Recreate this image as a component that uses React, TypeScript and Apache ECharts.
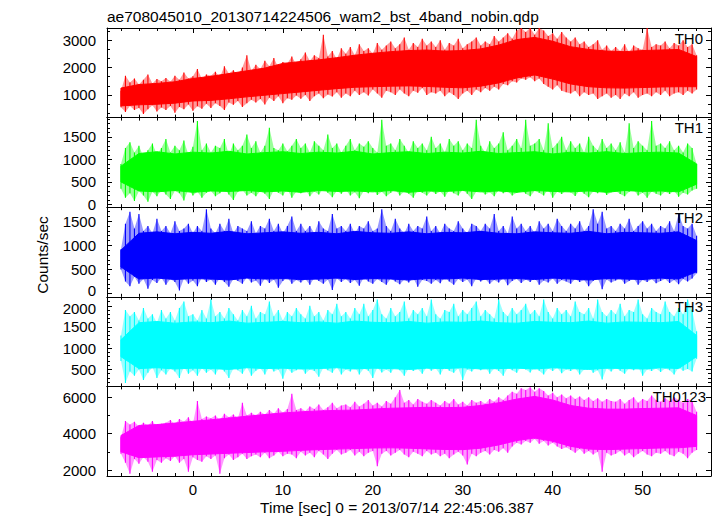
import React, { useEffect, useRef } from "react";
import * as echarts from "echarts";

// ---- Texts ----
const TITLE = "ae708045010_20130714224506_wam2_bst_4band_nobin.qdp";
const X_TITLE = "Time [sec] 0 = 2013/07/14 22:45:06.387";
const Y_TITLE = "Counts/sec";
const BANDS = ["TH0", "TH1", "TH2", "TH3", "TH0123"];
const COLORS = ["#ff0000", "#00ff00", "#0000ff", "#00ffff", "#ff00ff"];

// ---- Axes ----
const X_MIN = -9.55;
const X_MAX = 57.6;
const Y_MIN = [173, -60, -69, 100, 1670];
const Y_MAX = [3443, 1926, 1792, 2211, 6600];
const Y_SPLIT = [3, 4, 4, 4, 3];
const Y_MINOR = [3, 5, 5, 5, 2];

// ---- Time sampling (sec) of the spike envelopes ----
const T_START = -8.0;
const T_STEP = 0.5;
// ---- Time sampling (sec) of the dense core band ----
const CORE_START = -8.0;
const CORE_STEP = 2.0;

// ---- Spike extents (upper / lower tip, counts/sec) ----
const th0Upper = [
  1150, 1700, 1450, 1600, 1380, 1550, 1750, 1420, 1580, 1500,
  1620, 1480, 1700, 1550, 1820, 1600, 1680, 1950, 1580, 1750,
  1700, 1850, 1650, 2050, 1780, 1900, 1720, 2000, 2450, 1880,
  2100, 1950, 2250, 2050, 2350, 2000, 2200, 2150, 2400, 2100,
  2300, 2550, 2250, 2450, 2350, 3200, 2400, 2600, 2300, 2700,
  2500, 2750, 2450, 2850, 2600, 2700, 2500, 2900, 2650, 2800,
  2950, 2700, 2850, 3100, 2650, 2900, 2750, 3050, 2800, 2950,
  2750, 3000, 2650, 2900, 2800, 3050, 2700, 2850, 2950, 3100,
  2800, 2950, 2850, 3150, 2950, 3100, 3250, 3050, 3350, 3440,
  3300, 3440, 3200, 3440, 3350, 3150, 3250, 3050, 3300, 3100,
  2950, 3100, 2850, 2950, 2750, 2850, 3000, 2650, 2800, 2600,
  2750, 2600, 2850, 2550, 2800, 2700, 2650, 3440, 2750, 2850,
  2800, 2950, 2700, 2900, 2800, 3000, 2750, 2850, 2450,
];
const th0Lower = [
  550, 380, 600, 450, 520, 300, 480, 620, 400, 540,
  450, 600, 350, 560, 480, 650, 420, 590, 500, 680,
  520, 700, 600, 450, 720, 640, 780, 560, 700, 820,
  720, 850, 650, 900, 780, 950, 700, 880, 820, 980,
  860, 1000, 780, 950, 1050, 880, 1020, 940, 1100, 900,
  1050, 950, 1150, 1000, 1100, 980, 1200, 1050, 900, 1150,
  1100, 1000, 1200, 1050, 950, 1150, 1080, 1250, 1000, 1100,
  1050, 1150, 950, 1100, 1000, 850, 1050, 1150, 1000, 1200,
  1100, 1250, 1150, 1300, 1200, 1400, 1350, 1500, 1450, 1600,
  1550, 1650, 1500, 1600, 1400, 1300, 1200, 1350, 1150, 1100,
  1050, 1150, 950, 1100, 1000, 1050, 850, 950, 1050, 900,
  1000, 850, 1050, 950, 1100, 900, 1000, 1050, 950, 1100,
  1000, 1150, 950, 1050, 1100, 1000, 1150, 1050, 1200,
];
const th1Upper = [
  900, 1250, 1380, 1150, 1300, 1050, 1200, 1350, 1100, 1250,
  1450, 1150, 1300, 1200, 1420, 1100, 1280, 1850, 1200, 1350,
  1150, 1300, 1250, 1450, 1100, 1350, 1200, 1300, 1550, 1250,
  1400, 1150, 1300, 1700, 1250, 1200, 1350, 1180, 1300, 1450,
  1250, 1350, 1150, 1400, 1300, 1200, 1550, 1250, 1350, 1150,
  1300, 1450, 1200, 1350, 1280, 1400, 1250, 1150, 1880, 1300,
  1350, 1200, 1450, 1300, 1150, 1400, 1250, 1350, 1200, 1500,
  1250, 1350, 1150, 1450, 1300, 1400, 1200, 1350, 1250, 1880,
  1300, 1150, 1400, 1250, 1350, 1600, 1200, 1300, 1450, 1250,
  1880, 1300, 1350, 1450, 1200, 1800, 1250, 1350, 1500, 1200,
  1400, 1250, 1350, 1150, 1500, 1300, 1200, 1450, 1250, 1350,
  1200, 1380, 1150, 1800, 1250, 1400, 1300, 1200, 1850, 1300,
  1350, 1250, 1400, 1200, 1300, 1150, 1350, 1250, 900,
];
const th1Lower = [
  350, 150, 250, 80, 300, 200, 60, 280, 180, 320,
  220, 120, 300, 250, 90, 330, 200, 280, 150, 260,
  300, 180, 250, 350, 220, 100, 280, 320, 200, 260,
  180, 300, 240, 120, 320, 260, 200, 340, 150, 280,
  250, 330, 180, 290, 220, 350, 260, 160, 300, 240,
  320, 200, 270, 140, 300, 250, 350, 210, 280, 180,
  260, 330, 200, 290, 240, 150, 310, 260, 200, 300,
  230, 290, 170, 310, 250, 200, 330, 240, 120, 280,
  300, 220, 270, 180, 320, 250, 290, 200, 260, 310,
  240, 180, 300, 260, 200, 330, 150, 280, 230, 300,
  270, 190, 310, 240, 160, 290, 250, 330, 210, 270,
  300, 230, 180, 280, 320, 200, 260, 150, 290, 240,
  200, 280, 230, 300, 170, 260, 220, 310, 350,
];
const th2Upper = [
  920, 1450, 1700, 1350, 1650, 1300, 1400, 1250, 1550, 1300,
  1400, 1250, 1500, 1300, 1350, 1450, 1250, 1400, 1300, 1750,
  1350, 1250, 1450, 1300, 1550, 1250, 1400, 1350, 1300, 1500,
  1250, 1400, 1350, 1550, 1300, 1450, 1250, 1400, 1600, 1300,
  1450, 1300, 1400, 1250, 1500, 1350, 1300, 1650, 1350, 1400,
  1300, 1450, 1250, 1400, 1350, 1500, 1300, 1350, 1750, 1400,
  1300, 1550, 1350, 1250, 1450, 1300, 1400, 1350, 1600, 1300,
  1400, 1250, 1450, 1350, 1300, 1500, 1350, 1250, 1450, 1400,
  1300, 1450, 1350, 1650, 1300, 1400, 1250, 1600, 1350, 1450,
  1300, 1400, 1250, 1500, 1350, 1450, 1300, 1550, 1400, 1300,
  1450, 1350, 1500, 1300, 1400, 1750, 1450, 1700, 1350, 1400,
  1300, 1450, 1350, 1550, 1300, 1400, 1500, 1350, 1450, 1300,
  1400, 1350, 1500, 1300, 1650, 1400, 1350, 1450, 1200,
];
const th2Lower = [
  500, 250, 150, 350, 200, 300, 100, 280, 220, 320,
  180, 300, 240, 60, 310, 200, 270, 150, 330, 240,
  290, 180, 320, 240, 140, 300, 260, 200, 330, 230,
  270, 160, 310, 220, 290, 120, 260, 330, 200, 280,
  230, 300, 180, 320, 260, 200, 290, 70, 310, 240,
  300, 220, 280, 160, 330, 250, 200, 300, 240, 180,
  310, 250, 190, 290, 230, 320, 140, 280, 260, 200,
  280, 210, 330, 250, 180, 300, 240, 290, 150, 310,
  250, 300, 200, 280, 230, 320, 170, 260, 300, 220,
  290, 240, 320, 180, 270, 230, 310, 200, 280, 250,
  200, 300, 240, 280, 150, 260, 320, 90, 290, 230,
  270, 320, 200, 260, 310, 180, 280, 240, 300, 210,
  260, 300, 220, 280, 190, 300, 250, 310, 420,
];
const th3Upper = [
  1300, 1900, 1750, 1850, 1650, 1950, 1700, 1800, 1600, 1900,
  1700, 1850, 1650, 1950, 2100, 1750, 1800, 1650, 1900, 1700,
  2150, 1750, 1850, 1700, 1950, 1800, 1650, 1900, 1750, 2000,
  1700, 1850, 1800, 2100, 1750, 1900, 1650, 1850, 1750, 1950,
  1800, 1700, 2000, 1750, 1850, 1650, 1900, 1800, 2050, 1750,
  1850, 1700, 1950, 1800, 2050, 1750, 1900, 2150, 1800, 1700,
  1950, 1750, 1850, 2100, 1700, 1900, 1800, 1950, 1750, 2150,
  1800, 1700, 1900, 1850, 2050, 1750, 1900, 1800, 1950, 2100,
  1750, 1900, 1800, 1700, 2150, 1850, 1750, 1950, 1800, 1900,
  2050, 1800, 1900, 1750, 2150, 1850, 1700, 1950, 1800, 1900,
  1750, 2100, 1850, 1800, 1950, 1700, 2150, 1850, 1750, 1900,
  1800, 2050, 1750, 1900, 1850, 2150, 1800, 1700, 1950, 1850,
  1800, 2100, 1850, 1750, 1950, 1800, 2150, 1900, 1400,
];
const th3Lower = [
  700, 180, 450, 350, 500, 250, 420, 550, 300, 480,
  380, 520, 450, 300, 560, 400, 480, 350, 530, 420,
  500, 380, 560, 450, 300, 520, 480, 400, 550, 350,
  470, 530, 380, 560, 450, 500, 280, 520, 420, 480,
  550, 400, 500, 460, 330, 540, 480, 420, 560, 380,
  500, 450, 560, 380, 520, 470, 300, 540, 430, 500,
  420, 560, 480, 350, 530, 460, 510, 400, 550, 470,
  520, 380, 560, 470, 420, 530, 250, 500, 450, 540,
  480, 550, 400, 520, 460, 350, 540, 480, 420, 560,
  500, 430, 550, 470, 380, 520, 460, 540, 410, 500,
  460, 530, 380, 500, 550, 420, 480, 260, 520, 450,
  540, 470, 400, 530, 480, 550, 350, 500, 460, 520,
  440, 520, 480, 380, 540, 470, 510, 450, 750,
];
const th0123Upper = [
  3800, 4700, 4500, 4650, 4400, 4600, 4450, 4700, 4350, 4550,
  4600, 4750, 4500, 4800, 4650, 4900, 4550, 5800, 4800, 4950,
  4850, 5000, 4750, 5100, 4900, 5050, 4850, 5700, 5000, 5150,
  5000, 5200, 5050, 5300, 5100, 5400, 5150, 5350, 6200, 5300,
  5400, 5250, 5500, 5350, 5600, 5300, 5450, 5700, 5400, 5550,
  5600, 5450, 5750, 5500, 5650, 5850, 5550, 5700, 5500, 5800,
  5650, 6000, 6400, 5700, 5850, 5600, 5900, 5750, 5650, 5850,
  5700, 5550, 5800, 5650, 5900, 5600, 5750, 5550, 5850, 5700,
  5800, 5650, 5900, 5750, 6000, 5850, 6100, 6300, 6200, 6500,
  6400, 6550, 6300, 6500, 6350, 6100, 6250, 6000, 6150, 5950,
  6100, 5900, 6050, 5850, 6000, 5800, 5950, 5750, 5900, 5800,
  5750, 5900, 5650, 5850, 6000, 5700, 5900, 5800, 6100, 5850,
  5750, 5950, 5800, 6000, 5850, 5700, 5900, 5800, 5200,
];
const th0123Lower = [
  2900, 2400, 1800, 2600, 2350, 2700, 2450, 1900, 2550, 2400,
  2650, 2500, 2750, 2400, 2600, 1900, 2700, 2550, 2450, 2750,
  2600, 2800, 1800, 2650, 2850, 2550, 2700, 2900, 2600, 2750,
  2850, 2700, 2950, 2650, 2800, 3000, 2750, 2900, 2850, 2650,
  3000, 2800, 2950, 2700, 3050, 2850, 2600, 2900, 3100, 2850,
  2950, 3100, 2800, 3000, 2750, 2950, 3050, 2200, 2900, 3050,
  2800, 2950, 3100, 2850, 2700, 3000, 2900, 2750, 3050, 2850,
  2950, 2750, 2900, 2650, 2850, 3000, 2800, 2300, 2900, 2750,
  2950, 3050, 2850, 3100, 3000, 3200, 2950, 3300, 3500, 3400,
  3600, 3500, 3700, 3450, 3600, 3350, 3500, 3300, 3150, 3250,
  3100, 2950, 3150, 2900, 3050, 2850, 3000, 1900, 2950, 2800,
  2900, 3050, 2800, 2950, 2700, 2900, 3050, 2850, 2750, 2950,
  2900, 3050, 2850, 2750, 3000, 2900, 2650, 2950, 3100,
];

// ---- Dense (solid) band, every 2 s from -8 to 56 ----
const th0CoreUpper = [1250, 1380, 1420, 1480, 1600, 1680, 1780, 1880, 1980, 2150, 2220, 2280, 2360, 2450, 2520, 2580, 2620, 2640, 2600, 2620, 2680, 2820, 3020, 3100, 2960, 2760, 2660, 2600, 2580, 2620, 2640, 2660, 2400];
const th0CoreLower = [600, 640, 660, 700, 780, 800, 860, 930, 990, 1050, 1110, 1170, 1230, 1280, 1300, 1320, 1330, 1310, 1280, 1260, 1320, 1440, 1620, 1730, 1580, 1400, 1300, 1260, 1250, 1270, 1290, 1300, 1300];
const th1CoreUpper = [850, 1130, 1170, 1120, 1160, 1140, 1180, 1120, 1150, 1170, 1130, 1160, 1140, 1180, 1120, 1150, 1170, 1130, 1160, 1140, 1180, 1130, 1150, 1170, 1120, 1160, 1140, 1170, 1130, 1150, 1160, 1140, 900];
const th1CoreLower = [500, 300, 280, 310, 270, 300, 290, 310, 280, 300, 270, 310, 290, 300, 280, 310, 270, 300, 290, 310, 280, 300, 270, 310, 290, 280, 300, 270, 310, 290, 300, 280, 450];
const th2CoreUpper = [900, 1250, 1280, 1240, 1270, 1250, 1290, 1240, 1260, 1280, 1250, 1270, 1240, 1290, 1260, 1250, 1280, 1240, 1270, 1260, 1290, 1250, 1240, 1280, 1260, 1250, 1290, 1240, 1270, 1260, 1250, 1280, 1100];
const th2CoreLower = [550, 300, 320, 290, 310, 300, 280, 320, 300, 310, 290, 300, 320, 290, 310, 300, 280, 310, 300, 320, 290, 300, 310, 290, 320, 300, 280, 310, 300, 290, 320, 300, 450];
const th3CoreUpper = [1200, 1600, 1630, 1590, 1620, 1600, 1640, 1590, 1610, 1630, 1600, 1620, 1590, 1640, 1610, 1600, 1630, 1590, 1620, 1610, 1640, 1600, 1590, 1630, 1610, 1600, 1640, 1590, 1620, 1610, 1600, 1630, 1300];
const th3CoreLower = [800, 520, 540, 510, 530, 520, 500, 540, 520, 530, 510, 520, 540, 510, 530, 520, 500, 530, 520, 540, 510, 520, 530, 510, 540, 520, 500, 530, 520, 510, 540, 520, 800];
const th0123CoreUpper = [3900, 4450, 4500, 4580, 4680, 4760, 4860, 4960, 5050, 5140, 5200, 5250, 5280, 5300, 5350, 5400, 5420, 5450, 5430, 5450, 5550, 5700, 5900, 6050, 5850, 5550, 5400, 5350, 5350, 5380, 5400, 5420, 5000];
const th0123CoreLower = [3000, 2680, 2720, 2760, 2840, 2880, 2920, 2960, 3000, 3030, 3080, 3120, 3150, 3180, 3210, 3220, 3200, 3160, 3130, 3120, 3200, 3380, 3620, 3760, 3580, 3300, 3150, 3120, 3150, 3180, 3210, 3220, 3300];

const UPPERS = [th0Upper, th1Upper, th2Upper, th3Upper, th0123Upper];
const LOWERS = [th0Lower, th1Lower, th2Lower, th3Lower, th0123Lower];
const CORE_UPPERS = [th0CoreUpper, th1CoreUpper, th2CoreUpper, th3CoreUpper, th0123CoreUpper];
const CORE_LOWERS = [th0CoreLower, th1CoreLower, th2CoreLower, th3CoreLower, th0123CoreLower];

const FONT = "'Liberation Sans', Arial, Helvetica, sans-serif";
const GRID_LEFT = 107;
const GRID_RIGHT = 6;
const GRID_TOP = 28;
const PANEL_H = 89.6;

function buildOption(): echarts.EChartsOption {
  const grids: any[] = [];
  const xAxes: any[] = [];
  const yAxes: any[] = [];
  const series: any[] = [];
  const graphics: any[] = [];

  const tickStyle = { color: "#000", width: 1 };

  BANDS.forEach((name, i) => {
    const top = GRID_TOP + i * PANEL_H;
    grids.push({ left: GRID_LEFT, right: GRID_RIGHT, top, height: PANEL_H });

    ["bottom", "top"].forEach((pos) => {
      xAxes.push({
        type: "value",
        gridIndex: i,
        position: pos,
        min: X_MIN,
        max: X_MAX,
        splitNumber: 6,
        axisLine: { show: true, onZero: false, lineStyle: tickStyle },
        axisTick: { show: true, inside: true, length: 5, lineStyle: tickStyle },
        minorTick: { show: true, splitNumber: 5, length: 3, lineStyle: tickStyle },
        splitLine: { show: false },
        axisLabel: {
          show: pos === "bottom" && i === BANDS.length - 1,
          margin: 6,
          fontSize: 15,
          fontFamily: FONT,
          color: "#000",
          showMinLabel: false,
          showMaxLabel: false,
        },
      });
    });

    ["left", "right"].forEach((pos) => {
      yAxes.push({
        type: "value",
        gridIndex: i,
        position: pos,
        min: Y_MIN[i],
        max: Y_MAX[i],
        splitNumber: Y_SPLIT[i],
        axisLine: { show: true, onZero: false, lineStyle: tickStyle },
        axisTick: { show: true, inside: true, length: 5, lineStyle: tickStyle },
        minorTick: { show: true, splitNumber: Y_MINOR[i], length: 3, lineStyle: tickStyle },
        splitLine: { show: false },
        axisLabel: {
          show: pos === "left",
          margin: 11,
          fontSize: 15,
          fontFamily: FONT,
          color: "#000",
          showMinLabel: false,
          showMaxLabel: false,
          formatter: (v: number) => {
            const s = String(v);
            // nudge the two labels that sit at the shared panel border apart
            if (i === 2 && v === 0) return `{up|${s}}`;
            if (i === 3 && v === 2000) return `{dn|${s}}`;
            return s;
          },
          rich: {
            up: { fontSize: 15, fontFamily: FONT, color: "#000", padding: [0, 0, 5, 0] },
            dn: { fontSize: 15, fontFamily: FONT, color: "#000", padding: [5, 0, 0, 0] },
          },
        },
      });
    });

    const up = UPPERS[i];
    const lo = LOWERS[i];
    const cu = CORE_UPPERS[i];
    const cl = CORE_LOWERS[i];
    const color = COLORS[i];
    series.push({
      type: "custom",
      name,
      xAxisIndex: 2 * i,
      yAxisIndex: 2 * i,
      silent: true,
      clip: true,
      data: [[T_START, (Y_MIN[i] + Y_MAX[i]) / 2]],
      encode: { x: 0, y: 1 },
      renderItem: (params: any, api: any) => {
        const cs = params.coordSys;
        const yTop = cs.y;
        const yBot = cs.y + cs.height;
        const clampY = (y: number) => Math.max(yTop, Math.min(yBot, y));
        // faint outer envelope (spike tips)
        const env: number[][] = [];
        for (let k = 0; k < up.length; k++) env.push(api.coord([T_START + k * T_STEP, up[k]]));
        for (let k = lo.length - 1; k >= 0; k--) env.push(api.coord([T_START + k * T_STEP, lo[k]]));
        // solid core
        const core: number[][] = [];
        for (let k = 0; k < cu.length; k++) core.push(api.coord([CORE_START + k * CORE_STEP, cu[k]]));
        for (let k = cl.length - 1; k >= 0; k--) core.push(api.coord([CORE_START + k * CORE_STEP, cl[k]]));
        const children: any[] = [
          {
            type: "polygon",
            shape: { points: echarts.graphic.clipPointsByRect(env, cs) },
            style: { fill: color, opacity: 0.4 },
          },
          {
            type: "polygon",
            shape: { points: echarts.graphic.clipPointsByRect(core, cs) },
            style: { fill: color, stroke: color, lineWidth: 1 },
          },
        ];
        for (let k = 0; k < up.length; k++) {
          const t = T_START + k * T_STEP;
          const pTop = api.coord([t, up[k]]);
          const pBot = api.coord([t, lo[k]]);
          children.push({
            type: "line",
            shape: { x1: pTop[0], y1: clampY(pTop[1]), x2: pBot[0], y2: clampY(pBot[1]) },
            style: { stroke: color, lineWidth: 1.1 },
          });
        }
        return { type: "group", children };
      },
    });

    graphics.push({
      type: "text",
      x: i === BANDS.length - 1 ? 706 : 703,
      y: top + 10,
      style: {
        text: name,
        fontSize: 15,
        fontFamily: FONT,
        fill: "#000",
        align: "right",
        verticalAlign: "middle",
      },
      z: 100,
    });
  });

  graphics.push({
    type: "text",
    x: 107,
    y: 16,
    style: { text: TITLE, fontSize: 15.5, fontFamily: FONT, fill: "#000", align: "left", verticalAlign: "middle" },
  });
  graphics.push({
    type: "text",
    x: 397,
    y: 507,
    style: { text: X_TITLE, fontSize: 15.5, fontFamily: FONT, fill: "#000", align: "center", verticalAlign: "middle" },
  });
  graphics.push({
    type: "text",
    x: 42,
    y: 255,
    rotation: Math.PI / 2,
    style: { text: Y_TITLE, fontSize: 15.5, fontFamily: FONT, fill: "#000", align: "center", verticalAlign: "middle" },
  });

  return {
    animation: false,
    backgroundColor: "#ffffff",
    grid: grids,
    xAxis: xAxes,
    yAxis: yAxes,
    series,
    graphic: graphics,
  };
}

export default function App() {
  const ref = useRef<HTMLDivElement | null>(null);
  useEffect(() => {
    if (!ref.current) return;
    const chart = echarts.init(ref.current, undefined, { renderer: "svg" });
    chart.setOption(buildOption());
    return () => chart.dispose();
  }, []);
  return (
    <div
      ref={ref}
      style={{ position: "absolute", left: 0, top: 0, width: 717, height: 516, background: "#fff" }}
    />
  );
}
